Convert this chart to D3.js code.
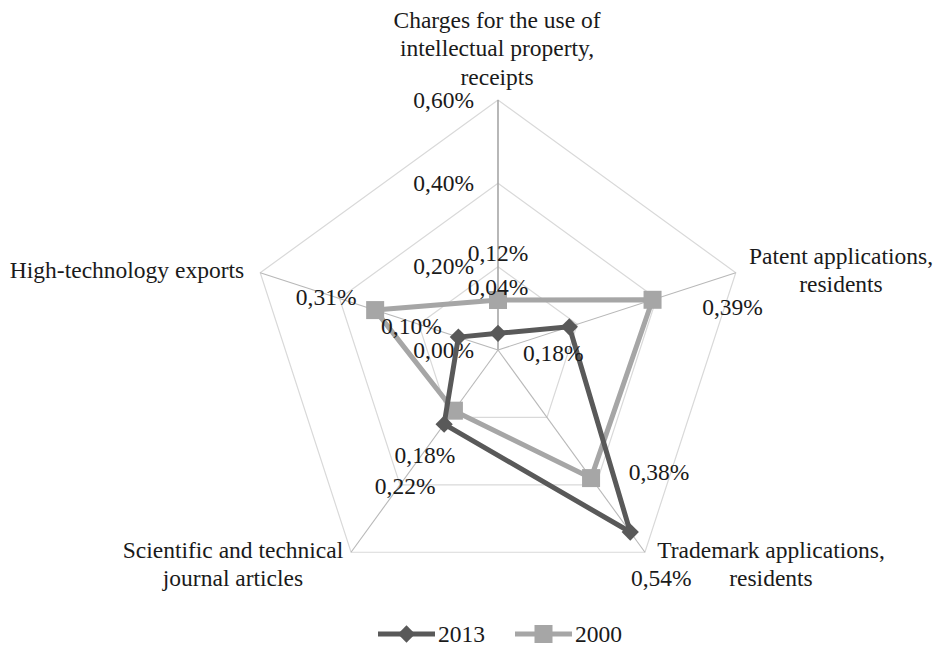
<!DOCTYPE html>
<html>
<head>
<meta charset="utf-8">
<script src="https://cdn.jsdelivr.net/npm/d3@7/dist/d3.min.js"></script>
<style>
  html, body { margin: 0; padding: 0; background: #fff; }
  svg { display: block; }
  svg text { font-family: 'Liberation Serif'; }
</style>
</head>
<body>
<svg id="chart" width="939" height="648" font-family="Liberation Serif"></svg>
<script>
// Indicator names (one per radar axis, clockwise from top)
const categories = [
  ["Charges for the use of", "intellectual property,", "receipts"],
  ["Patent applications,", "residents"],
  ["Trademark applications,", "residents"],
  ["Scientific and technical", "journal articles"],
  ["High-technology exports"]
];
// Share values, percent
const values2013 = [0.04, 0.18, 0.54, 0.22, 0.10];
const values2000 = [0.12, 0.39, 0.38, 0.18, 0.31];
const seriesNames = ["2013", "2000"];
const tickValues = [0, 0.2, 0.4, 0.6];

const FS = 23.5;

const svg = d3.select("#chart");
const cx = 498, cy = 350, R = 250;
const r = d3.scaleLinear().domain([0, 0.6]).range([0, R]);
const angle = d3.scaleLinear().domain([0, categories.length]).range([0, 2 * Math.PI]);
const fmt = v => d3.format(".2f")(v).replace(".", ",") + "%";

const pt = (i, v) => {
  const a = angle(i);
  return [cx + r(v) * Math.sin(a), cy - r(v) * Math.cos(a)];
};

const g = svg.append("g");

// Pentagon grid rings
tickValues.filter(t => t > 0).forEach(t => {
  g.append("path")
    .attr("d", d3.line()(d3.range(categories.length).map(i => pt(i, t))) + "Z")
    .attr("fill", "none")
    .attr("stroke", "#d9d9d9")
    .attr("stroke-width", 1.2);
});

// Spokes
categories.forEach((c, i) => {
  const [x, y] = pt(i, 0.6);
  g.append("line")
    .attr("x1", cx).attr("y1", cy).attr("x2", x).attr("y2", y)
    .attr("stroke", i === 0 ? "#a6a6a6" : "#b8b8b8")
    .attr("stroke-width", i === 0 ? 1.6 : 1.1);
});

function label(sel, x, y, s, anchor) {
  return sel.append("text")
    .attr("x", x).attr("y", y)
    .attr("dy", "0.33em")
    .attr("text-anchor", anchor || "middle")
    .attr("font-family", "Liberation Serif")
    .attr("font-size", FS)
    .attr("fill", "#1a1a1a")
    .text(s);
}

// Radial tick labels beside the top axis
tickValues.forEach(t => label(g, cx - 24, cy - r(t), fmt(t), "end"));

// Category labels
const catLayout = [
  { x: 497, y: 20 },
  { x: 841, y: 256 },
  { x: 771, y: 550 },
  { x: 233, y: 550 },
  { x: 127, y: 270 }
];
categories.forEach((lines, i) => {
  const L = catLayout[i];
  lines.forEach((s, k) => label(g, L.x, L.y + k * 28.5, s));
});

// Series
const series = [
  { name: seriesNames[0], values: values2013, color: "#595959", marker: "diamond" },
  { name: seriesNames[1], values: values2000, color: "#a6a6a6", marker: "square" }
];

const radial = d3.lineRadial()
  .angle((d, i) => angle(i))
  .radius(d => r(d))
  .curve(d3.curveLinearClosed);

function drawMarker(sel, type, x, y, color) {
  if (type === "square") {
    sel.append("rect")
      .attr("x", x - 9).attr("y", y - 9)
      .attr("width", 18).attr("height", 18)
      .attr("fill", color);
  } else {
    sel.append("path")
      .attr("d", d3.symbol(d3.symbolDiamond2, 190)())
      .attr("transform", `translate(${x},${y})`)
      .attr("fill", color);
  }
}

// draw 2000 first so 2013 sits on top
[series[1], series[0]].forEach(s => {
  const sg = g.append("g");
  sg.append("path")
    .attr("transform", `translate(${cx},${cy})`)
    .attr("d", radial(s.values))
    .attr("fill", "none")
    .attr("stroke", s.color)
    .attr("stroke-width", 5)
    .attr("stroke-linejoin", "round");
  s.values.forEach((v, i) => {
    const [x, y] = pt(i, v);
    drawMarker(sg, s.marker, x, y, s.color);
  });
});

// Data labels (offset from each point)
const labelOffsets = {
  "2013": [[0, -46], [-16, 26], [31, 46], [-39, 62], [-47, -11]],
  "2000": [[0, -47], [80, 7], [68, -6], [-29, 45], [-49, -13]]
};
series.forEach(s => {
  s.values.forEach((v, i) => {
    const [x, y] = pt(i, v);
    const [dx, dy] = labelOffsets[s.name][i];
    label(g, x + dx, y + dy, fmt(v));
  });
});

// Legend
const legend = svg.append("g");
const legendItems = [
  { s: series[0], x0: 378 },
  { s: series[1], x0: 515 }
];
legendItems.forEach(({ s, x0 }) => {
  const ly = 634;
  legend.append("line")
    .attr("x1", x0).attr("y1", ly).attr("x2", x0 + 57).attr("y2", ly)
    .attr("stroke", s.color).attr("stroke-width", 5);
  drawMarker(legend, s.marker, x0 + 28.5, ly, s.color);
  label(legend, x0 + 60, ly, s.name, "start");
});
</script>
</body>
</html>
